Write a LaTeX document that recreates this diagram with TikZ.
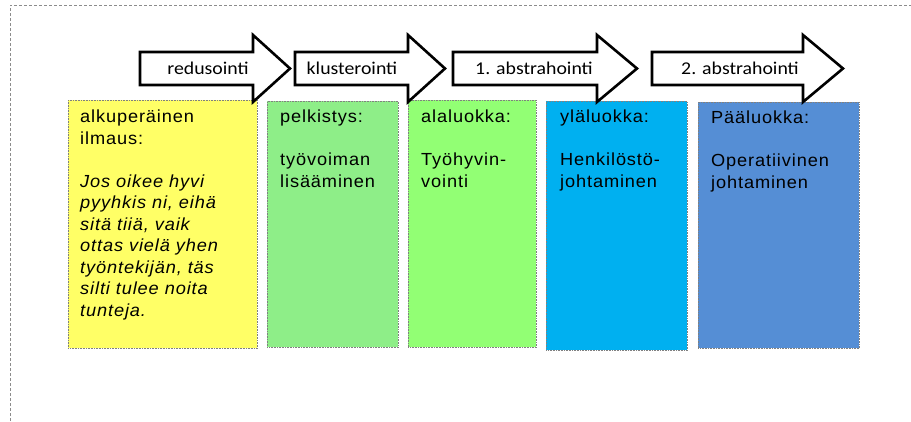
\documentclass[tikz,border=0pt]{standalone}
\usepackage{fontspec}
\setmainfont{Liberation Sans}
\newfontfamily\arrowfont[FakeStretch=1.1]{Carlito}
\newfontfamily\boxfont[FakeStretch=1.04,LetterSpace=5.0]{Liberation Sans}
\usepackage{xcolor}
\usepackage{tikz}
\usetikzlibrary{positioning,calc}

\definecolor{origyellow}{HTML}{FFFF66}
\definecolor{simplegreen}{HTML}{8EEE88}
\definecolor{subgreen}{HTML}{92FF74}
\definecolor{uppercyan}{HTML}{00B0F0}
\definecolor{mainblue}{HTML}{558ED5}

\begin{document}
\begin{tikzpicture}[x=1pt,y=-1pt,
    frame/.style={draw=gray!90, densely dashed, line width=0.8pt},
    catbox/.style={draw=gray, densely dotted, line width=0.6pt, anchor=north west, inner sep=0pt},
    boxtext/.style={inner sep=0pt, align=left, font=\boxfont\fontsize{17.5}{21.5}\selectfont},
    flow/.style={draw=black, line width=2.6pt, fill=white, line join=miter},
    flowlabel/.style={inner sep=0pt, font=\arrowfont\fontsize{18}{21}\selectfont}]

    \useasboundingbox (0,0) rectangle (911,421);
    \draw[frame] (10,421) -- (10,5) -- (911,5);

    % luokat
    \node[catbox, fill=origyellow, minimum width=189, minimum height=248] (orig) at (68,100) {};
    \node[catbox, fill=simplegreen, minimum width=131, minimum height=246] (simple) at (267,101) {};
    \node[catbox, fill=subgreen, minimum width=128, minimum height=247] (sub) at (408,100) {};
    \node[catbox, fill=uppercyan, minimum width=141, minimum height=249] (upper) at (546,101) {};
    \node[catbox, fill=mainblue, minimum width=161, minimum height=246] (main) at (698,102) {};

    \node[boxtext, below right=10pt and 12pt of orig.north west] (origtxt)
      {alkuperäinen\\ilmaus:\\[21.5pt]\textit{Jos oikee hyvi}\\\textit{pyyhkis ni, eihä}\\
       \textit{sitä tiiä, vaik}\\\textit{ottas vielä yhen}\\\textit{työntekijän, täs}\\
       \textit{silti tulee noita}\\\textit{tunteja.}};
    \node[boxtext, below right=9pt and 13pt of simple.north west] (simpletxt)
      {pelkistys:\\[21.5pt]työvoiman\\lisääminen};
    \node[boxtext, below right=10pt and 13pt of sub.north west] (subtxt)
      {alaluokka:\\[21.5pt]Työhyvin-\\vointi};
    \node[boxtext, below right=9pt and 14pt of upper.north west] (uppertxt)
      {yläluokka:\\[21.5pt]Henkilöstö-\\johtaminen};
    \node[boxtext, below right=9pt and 13pt of main.north west] (maintxt)
      {Pääluokka:\\[21.5pt]Operatiivinen\\johtaminen};

    % vaiheet
    \foreach \tail/\neck/\tip/\lx/\name/\txt in {140/253/290/208/reduce/redusointi,
        295/408/445/352/cluster/klusterointi,
        453/597/637/534/abstra/1. abstrahointi,
        652/803/843/740/abstrb/2. abstrahointi}
    {
      \draw[flow] (\tail,52) -- (\neck,52) -- (\neck,35) -- (\tip,68.5)
        -- (\neck,102) -- (\neck,85) -- (\tail,85) -- cycle;
      \node[flowlabel] (\name) at (\lx,68.5) {\txt};
    }
\end{tikzpicture}
\end{document}
